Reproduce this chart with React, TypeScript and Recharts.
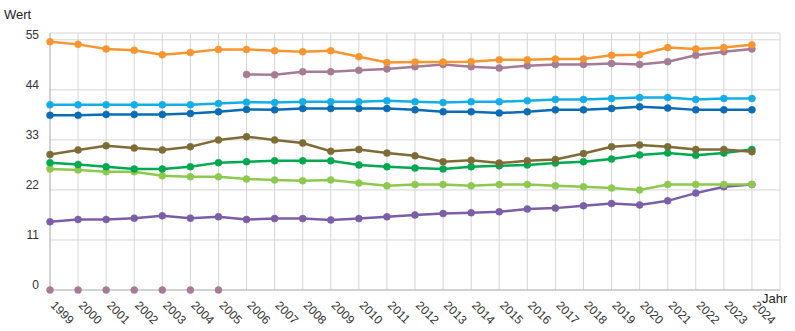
import { LineChart, Line, XAxis, YAxis, CartesianGrid } from 'recharts';

const years = [
  1999, 2000, 2001, 2002, 2003, 2004, 2005, 2006, 2007, 2008, 2009, 2010, 2011,
  2012, 2013, 2014, 2015, 2016, 2017, 2018, 2019, 2020, 2021, 2022, 2023, 2024,
];

const orange = [
  54.6, 54.0, 53.0, 52.7, 51.7, 52.2, 52.9, 52.9, 52.6, 52.4, 52.6, 51.3, 50.0,
  50.1, 50.1, 50.2, 50.6, 50.6, 50.8, 50.8, 51.6, 51.7, 53.3, 53.0, 53.3, 53.9,
];
const mauve = [
  null, null, null, null, null, null, null, 47.4, 47.3, 48.0, 48.0, 48.3, 48.6,
  49.1, 49.6, 49.1, 48.8, 49.3, 49.6, 49.6, 49.8, 49.6, 50.2, 51.6, 52.4, 53.0,
];
const mauveZero = [
  0, 0, 0, 0, 0, 0, 0, null, null, null, null, null, null,
  null, null, null, null, null, null, null, null, null, null, null, null, null,
];
const lightBlue = [
  40.7, 40.7, 40.7, 40.7, 40.7, 40.7, 41.0, 41.3, 41.2, 41.4, 41.4, 41.4, 41.6,
  41.4, 41.2, 41.4, 41.4, 41.6, 41.9, 41.9, 42.1, 42.3, 42.3, 41.9, 42.1, 42.1,
];
const darkBlue = [
  38.4, 38.4, 38.6, 38.6, 38.6, 38.8, 39.2, 39.7, 39.6, 39.9, 39.9, 39.9, 39.9,
  39.6, 39.2, 39.2, 38.9, 39.2, 39.6, 39.6, 39.9, 40.3, 40.0, 39.6, 39.6, 39.6,
];
const olive = [
  29.8, 30.8, 31.7, 31.2, 30.8, 31.5, 33.0, 33.7, 33.0, 32.3, 30.5, 30.9, 30.1,
  29.5, 28.2, 28.5, 27.9, 28.4, 28.7, 30.0, 31.5, 31.9, 31.5, 30.9, 30.9, 30.4,
];
const green = [
  28.0, 27.6, 27.1, 26.6, 26.6, 27.1, 28.0, 28.2, 28.4, 28.4, 28.4, 27.5, 27.1,
  26.8, 26.6, 27.1, 27.3, 27.5, 27.9, 28.2, 28.8, 29.7, 30.1, 29.6, 30.1, 30.9,
];
const lightGreen = [
  26.6, 26.4, 26.0, 26.0, 25.1, 24.9, 24.9, 24.4, 24.2, 24.0, 24.2, 23.5, 22.9,
  23.2, 23.2, 22.9, 23.2, 23.2, 22.9, 22.7, 22.4, 22.0, 23.2, 23.2, 23.2, 23.2,
];
const purple = [
  15.0, 15.5, 15.5, 15.8, 16.3, 15.8, 16.1, 15.5, 15.7, 15.7, 15.4, 15.7, 16.1,
  16.5, 16.8, 17.0, 17.2, 17.8, 18.0, 18.5, 19.0, 18.7, 19.6, 21.3, 22.7, 23.2,
];

const yTicks = [0, 11, 22, 33, 44, 55];

const data = years.map((year, i) => ({
  year,
  orange: orange[i],
  mauve: mauve[i],
  mauveZero: mauveZero[i],
  lightBlue: lightBlue[i],
  darkBlue: darkBlue[i],
  olive: olive[i],
  green: green[i],
  lightGreen: lightGreen[i],
  purple: purple[i],
}));

const series = [
  { key: 'purple', color: '#7b5ea7' },
  { key: 'lightGreen', color: '#8dc94e' },
  { key: 'green', color: '#00a94f' },
  { key: 'olive', color: '#7d6c35' },
  { key: 'darkBlue', color: '#0a6cb4' },
  { key: 'lightBlue', color: '#12aee8' },
  { key: 'mauve', color: '#a57b95' },
  { key: 'orange', color: '#f8952f' },
];

const font = '"Liberation Sans", Arial, sans-serif';

const YTick = (props: any) => {
  const { x, y, payload } = props;
  return (
    <text x={x - 3} y={y - 1} textAnchor="end" fontSize={12} fill="#333" fontFamily={font}>
      {payload.value}
    </text>
  );
};

const XTick = (props: any) => {
  const { x, y, payload } = props;
  return (
    <text
      x={x}
      y={y + 8}
      textAnchor="start"
      fontSize={12}
      fill="#333"
      fontFamily={font}
      transform={`rotate(45, ${x}, ${y + 8})`}
    >
      {payload.value}
    </text>
  );
};

export default function App() {
  return (
    <div style={{ position: 'absolute', left: 0, top: 0, width: 795, height: 331, fontFamily: font }}>
      <div style={{ position: 'absolute', left: 4, top: 7, fontSize: 13, color: '#222' }}>Wert</div>
      <div style={{ position: 'absolute', left: 762, top: 291, fontSize: 13, color: '#222' }}>Jahr</div>
      <LineChart
        width={795}
        height={331}
        data={data}
        margin={{ top: 33, right: 15, left: 0, bottom: 0 }}
      >
        <CartesianGrid stroke="#d6d6d6" />
        <XAxis
          dataKey="year"
          type="number"
          domain={[1999, 2025]}
          ticks={years}
          interval={0}
          height={41}
          tick={<XTick />}
          tickLine={false}
          axisLine={{ stroke: '#bbb' }}
        />
        <YAxis
          type="number"
          domain={[0, 56.5]}
          ticks={yTicks}
          width={50}
          tick={<YTick />}
          tickLine={false}
          axisLine={{ stroke: '#bbb' }}
        />
        <Line
          dataKey="mauveZero"
          stroke="none"
          dot={{ r: 3.5, fill: '#a57b95', stroke: '#a57b95', strokeWidth: 0.5 }}
          activeDot={false}
          isAnimationActive={false}
        />
        {series.map((s) => (
          <Line
            key={s.key}
            dataKey={s.key}
            stroke={s.color}
            strokeWidth={2.5}
            dot={{ r: 3.5, fill: s.color, stroke: s.color, strokeWidth: 0.5 }}
            activeDot={false}
            isAnimationActive={false}
          />
        ))}
      </LineChart>
    </div>
  );
}
